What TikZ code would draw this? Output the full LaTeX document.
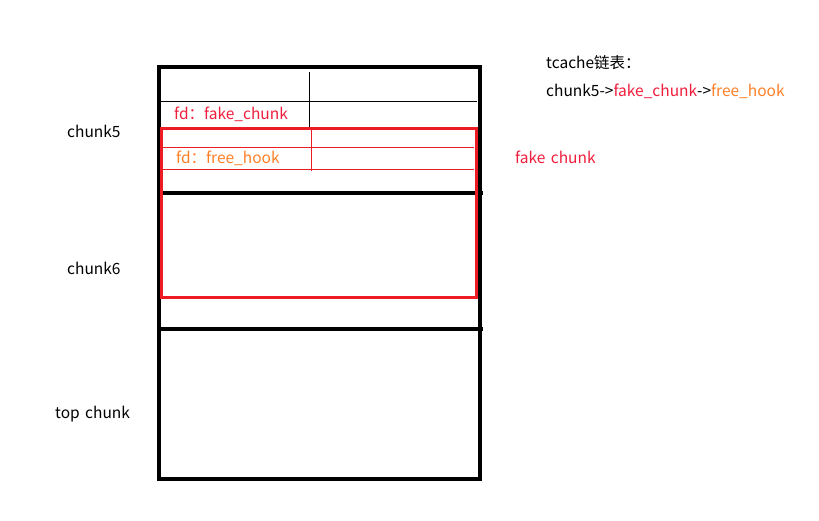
\documentclass[tikz,border=0pt]{standalone}
\usepackage{fontspec}
\setmainfont{Noto Sans CJK SC}
\definecolor{pred}{RGB}{237,28,36}
\definecolor{tred}{RGB}{240,30,60}
\definecolor{porange}{RGB}{255,127,39}
\begin{document}
\begin{tikzpicture}[x=1pt,y=-1pt,
  thick5/.style={line width=4pt,black},
  thinb/.style={line width=1pt,black},
  redbox/.style={line width=3pt,draw=pred},
  thinr/.style={line width=1pt,pred},
  lbl/.style={font=\fontsize{15.5}{18}\selectfont,inner sep=0pt,anchor=west}]
\useasboundingbox (0,0) rectangle (819,521);
% outer heap box
\draw[thick5] (159,67.5) rectangle (479.5,479);
\draw[thick5] (159,193.5) -- (483,193.5);
\draw[thick5] (159,329) -- (483,329);
% chunk5 inner lines
\draw[thinb] (309.5,72) -- (309.5,129);
\draw[thinb] (161,101.5) -- (477,101.5);
% fake chunk
\draw[redbox] (161,129) rectangle (476.5,298);
\draw[thinr] (311.5,129) -- (311.5,171.5);
\draw[thinr] (162,147.5) -- (474,147.5);
\draw[thinr] (162,170) -- (474,170);
% labels
\node[lbl,text=tred] (fd1) at (174,114) {fd：fake\_chunk};
\node[lbl,text=porange] (fd2) at (176,158) {fd：free\_hook};
\node[lbl] (c5) at (67,131) {chunk5};
\node[lbl] (c6) at (67,268) {chunk6};
\node[lbl] (top) at (55,414) {top\hspace{0.35em}chunk};
\node[lbl,text=tred] (fk) at (515,157) {fake\hspace{0.35em}chunk};
\node[lbl] (tc) at (546,63) {tcache链表：};
\node[lbl] (list) at (546,91) {chunk5->\textcolor{tred}{fake\_chunk}->\textcolor{porange}{free\_hook}};
\end{tikzpicture}
\end{document}
